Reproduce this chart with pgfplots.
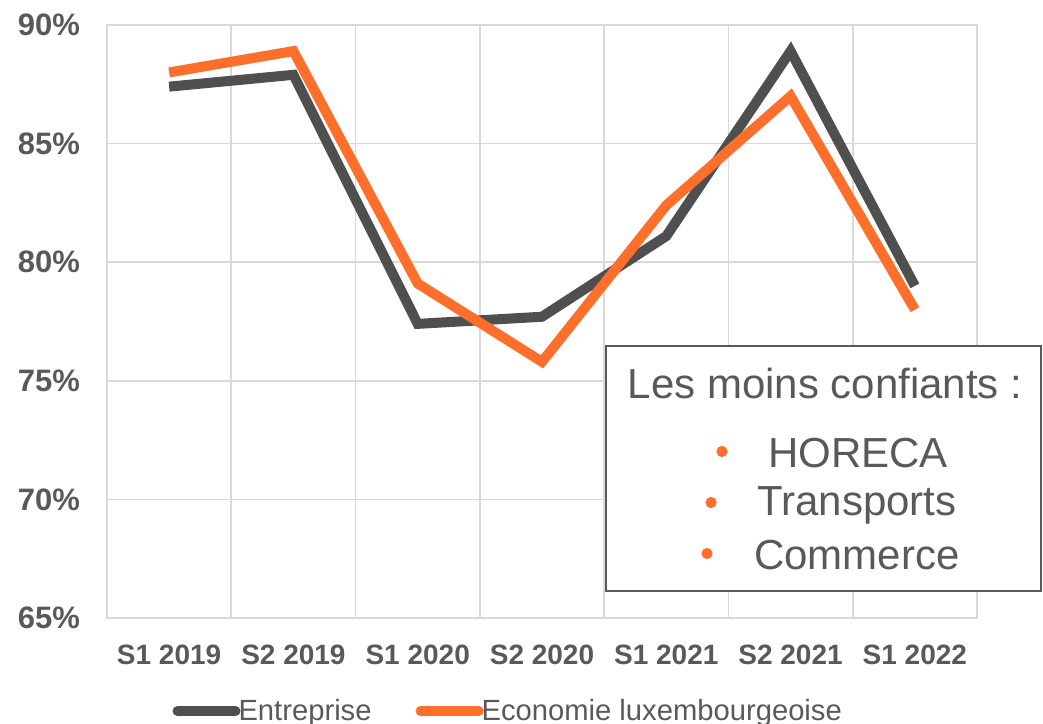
\documentclass[border=0pt]{standalone}
\usepackage{pgfplots}
\pgfplotsset{compat=1.18}
\usepackage{fontspec}
\setmainfont{Liberation Sans}
\definecolor{darkline}{HTML}{4F4F4F}
\definecolor{orangeline}{HTML}{FF6F2C}
\definecolor{txt}{HTML}{595959}
\definecolor{gridc}{HTML}{D9D9D9}
\begin{document}
\begin{tikzpicture}
\useasboundingbox (-53.5bp,-53bp) rectangle (468bp,309bp);
\begin{axis}[
    at={(0,0)}, anchor=south west,
    scale only axis,
    width=435bp, height=296.5bp,
    xmin=-0.5, xmax=6.5,
    ymin=65, ymax=90,
    xtick={0,...,6},
    xticklabels={S1 2019,S2 2019,S1 2020,S2 2020,S1 2021,S2 2021,S1 2022},
    minor xtick={-0.5,0.5,...,6.5},
    ytick={65,70,75,80,85,90},
    yticklabels={65\%,70\%,75\%,80\%,85\%,90\%},
    major tick length=0pt, minor tick length=0pt,
    ymajorgrids, xminorgrids,
    grid style={draw=gridc, line width=0.8bp},
    axis line style={draw=gridc, line width=0.8bp},
    tick label style={text=txt, font=\bfseries},
    yticklabel style={font=\fontsize{15.5bp}{18bp}\selectfont\bfseries, xshift=-10bp},
    xticklabel style={font=\fontsize{14bp}{16bp}\selectfont\bfseries, yshift=-10bp},
    clip=false,
    legend columns=2,
    legend style={draw=none, fill=none, at={(axis description cs:0.068,-0.157)}, anchor=west,
        font=\fontsize{14.6bp}{16bp}\selectfont, text=txt,
        /tikz/every even column/.append style={column sep=20bp}},
    legend cell align=left,
    legend image code/.code={\draw[#1, line cap=round] (0bp,0bp) -- (29bp,0bp);},
]
\addplot[darkline, line width=5bp] coordinates {
    (0,87.4) (1,87.9) (2,77.4) (3,77.7) (4,81.1) (5,88.9) (6,79.0)
};
\addlegendentry{\hspace{-3bp}Entreprise}
\addplot[orangeline, line width=5bp] coordinates {
    (0,88.0) (1,88.9) (2,79.1) (3,75.8) (4,82.4) (5,87.0) (6,78.0)
};
\addlegendentry{\hspace{-3bp}Economie luxembourgeoise}

\draw[txt, line width=0.9bp, fill=white] (axis description cs:0.5736,0.0455) rectangle (axis description cs:1.0736,0.4587);
\node[text=txt, font=\fontsize{21bp}{24bp}\selectfont] at (axis description cs:0.8253,0.396) {Les moins confiants :};
\node[text=txt, font=\fontsize{21bp}{24bp}\selectfont] at (axis description cs:0.8632,0.278) {HORECA};
\node[text=txt, font=\fontsize{21bp}{24bp}\selectfont] at (axis description cs:0.8620,0.190) {Transports};
\node[text=txt, font=\fontsize{21bp}{24bp}\selectfont] at (axis description cs:0.8620,0.106) {Commerce};
\fill[orangeline] (axis description cs:0.7069,0.2808) circle (2.8bp);
\fill[orangeline] (axis description cs:0.6943,0.1948) circle (2.8bp);
\fill[orangeline] (axis description cs:0.6897,0.1087) circle (2.8bp);
\end{axis}
\end{tikzpicture}
\end{document}
